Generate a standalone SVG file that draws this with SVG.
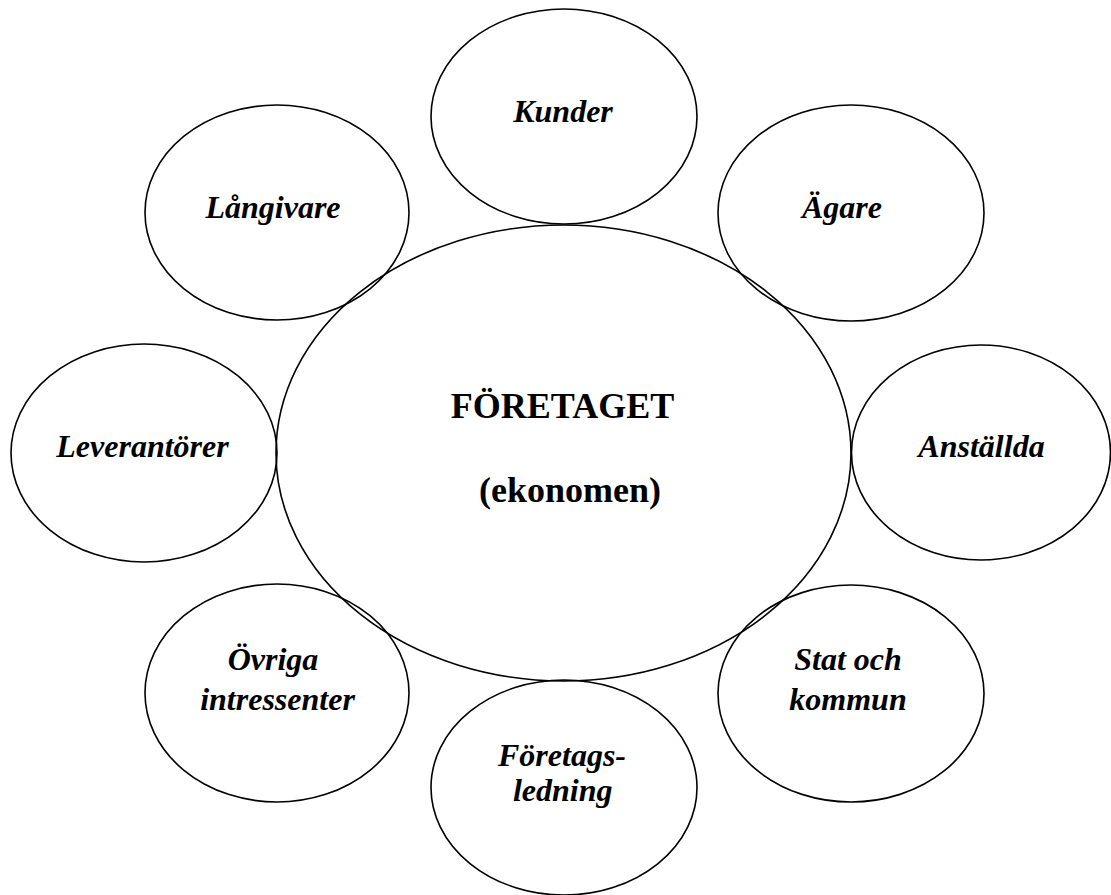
<svg xmlns="http://www.w3.org/2000/svg" width="1111" height="895" viewBox="0 0 1111 895">
<style>
.e{fill:none;stroke:#000;stroke-width:1.6}
.t{font-family:"Liberation Serif","Times New Roman",serif;font-size:32px;font-weight:bold;font-style:italic;fill:#000;text-anchor:middle}
.c{font-family:"Liberation Serif","Times New Roman",serif;font-size:36px;font-weight:bold;fill:#000;text-anchor:middle}
</style>
<rect width="1111" height="895" fill="#fff"/>
<g id="connectors"></g>
<g id="foretaget">
<ellipse class="e" cx="563.5" cy="453" rx="287.5" ry="228"/>
<text class="c" x="562.5" y="418">FÖRETAGET</text>
<text class="c" x="570" y="502">(ekonomen)</text>
</g>
<g id="kunder">
<ellipse class="e" cx="564" cy="116.5" rx="133" ry="107.5"/>
<text class="t" x="563" y="122">Kunder</text>
</g>
<g id="langivare">
<ellipse class="e" cx="277" cy="212.5" rx="132" ry="107.5"/>
<text class="t" x="273" y="218">Långivare</text>
</g>
<g id="agare">
<ellipse class="e" cx="851" cy="213" rx="133" ry="108"/>
<text class="t" x="842" y="218">Ägare</text>
</g>
<g id="leverantorer">
<ellipse class="e" cx="144" cy="453" rx="133" ry="109"/>
<text class="t" x="142.5" y="457">Leverantörer</text>
</g>
<g id="anstallda">
<ellipse class="e" cx="981" cy="452.5" rx="129.5" ry="107.5"/>
<text class="t" x="981.5" y="457">Anställda</text>
</g>
<g id="ovriga">
<ellipse class="e" cx="277" cy="693" rx="132" ry="109"/>
<text class="t" x="273" y="670">Övriga</text>
<text class="t" x="277.5" y="710">intressenter</text>
</g>
<g id="stat">
<ellipse class="e" cx="851" cy="693.5" rx="133" ry="108.5"/>
<text class="t" x="848" y="670">Stat och</text>
<text class="t" x="848" y="710">kommun</text>
</g>
<g id="foretagsledning">
<ellipse class="e" cx="564" cy="787.5" rx="133" ry="107.5"/>
<text class="t" x="562" y="766">Företags-</text>
<text class="t" x="562.7" y="801">ledning</text>
</g>
</svg>
